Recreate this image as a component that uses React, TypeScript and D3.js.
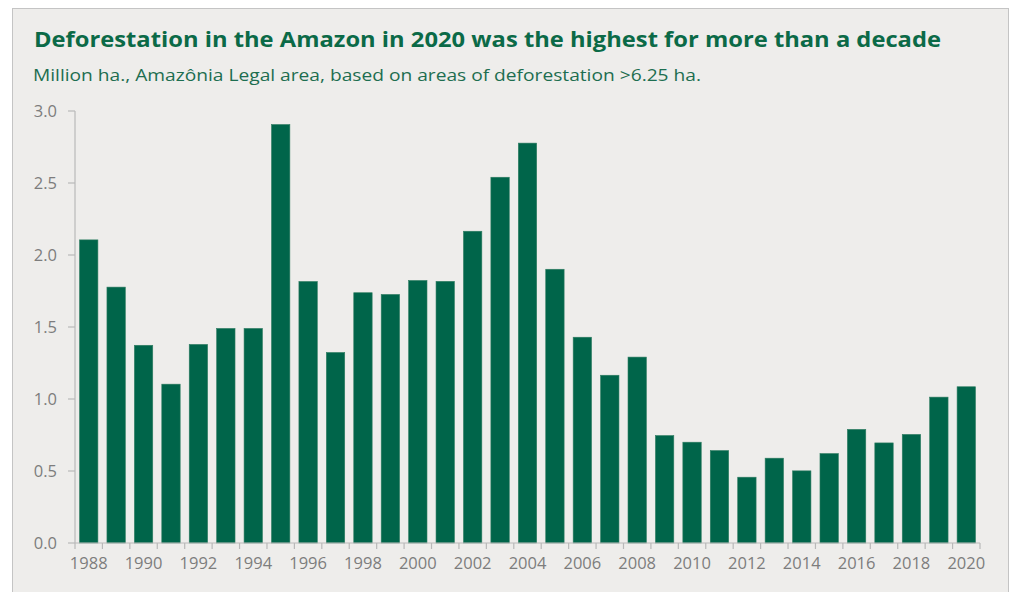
import React from "react";
import * as d3 from "d3";

const years: number[] = [
  1988, 1989, 1990, 1991, 1992, 1993, 1994, 1995, 1996, 1997, 1998, 1999, 2000,
  2001, 2002, 2003, 2004, 2005, 2006, 2007, 2008, 2009, 2010, 2011, 2012, 2013,
  2014, 2015, 2016, 2017, 2018, 2019, 2020,
];
const values: number[] = [
  2.105, 1.777, 1.373, 1.103, 1.379, 1.49, 1.49, 2.906, 1.816, 1.323, 1.738,
  1.726, 1.823, 1.817, 2.165, 2.54, 2.777, 1.901, 1.429, 1.165, 1.291, 0.746,
  0.7, 0.642, 0.457, 0.589, 0.501, 0.621, 0.789, 0.695, 0.754, 1.013, 1.085,
];
const yTicks: number[] = [0, 0.5, 1.0, 1.5, 2.0, 2.5, 3.0];
const xLabelYears: number[] = years.filter((y) => y % 2 === 0);

const title = "Deforestation in the Amazon in 2020 was the highest for more than a decade";
const subtitle = "Million ha., Amazônia Legal area, based on areas of deforestation >6.25 ha.";

const W = 1013;
const H = 592;
const M = { left: 75, right: 980, top: 111, bottom: 543 };

export default function App() {
  const x = d3
    .scaleBand<number>()
    .domain(years)
    .range([M.left, M.right])
    .paddingInner(0.33)
    .paddingOuter(0.165);
  const y = d3.scaleLinear().domain([0, 3]).range([M.bottom, M.top]);
  const step = x.step();
  const boundaries = d3.range(years.length + 1).map((i) => M.left + i * ((M.right - M.left) / years.length));
  const green = "#00654a";
  const axisColor = "#b9b9b9";
  const labelColor = "#7d7d7d";

  return (
    <svg
      width={W}
      height={H}
      style={{ position: "absolute", left: 0, top: 0, background: "#ffffff" }}
    >
      <rect x={12.5} y={8.5} width={996} height={600} fill="#eeedeb" stroke="#c4c4c4" strokeWidth={1} />
      <text
        x={34}
        y={47}
        fontFamily="'Open Sans', sans-serif"
        fontWeight={700}
        fontSize={21}
        fill="#0b6a47"
        textLength={907}
        lengthAdjust="spacingAndGlyphs"
      >
        {title}
      </text>
      <text
        x={33}
        y={81}
        fontFamily="'Open Sans', sans-serif"
        fontSize={16}
        fill="#1d6e50"
        textLength={668}
        lengthAdjust="spacingAndGlyphs"
      >
        {subtitle}
      </text>

      {/* y axis */}
      <line x1={M.left} x2={M.left} y1={M.top} y2={M.bottom} stroke={axisColor} strokeWidth={1.2} />
      {yTicks.map((t) => (
        <g key={t}>
          <line x1={M.left - 7} x2={M.left} y1={y(t)} y2={y(t)} stroke={axisColor} strokeWidth={1.2} />
          <text
            x={57}
            y={y(t)}
            dy="0.35em"
            textAnchor="end"
            fontFamily="'Open Sans', sans-serif"
            fontSize={16.5}
            fill={labelColor}
          >
            {t.toFixed(1)}
          </text>
        </g>
      ))}

      {/* bars */}
      {years.map((yr, i) => (
        <rect
          key={yr}
          x={x(yr)}
          y={y(values[i])}
          width={x.bandwidth()}
          height={y(0) - y(values[i])}
          fill={green}
          stroke="#2f7d62"
          strokeWidth={0.6}
        />
      ))}

      {/* x axis */}
      <line x1={M.left} x2={M.right} y1={M.bottom} y2={M.bottom} stroke={axisColor} strokeWidth={1.2} />
      {boundaries.map((b, i) => (
        <line key={i} x1={b} x2={b} y1={M.bottom} y2={M.bottom + 6} stroke={axisColor} strokeWidth={1.2} />
      ))}
      {xLabelYears.map((yr) => (
        <text
          key={yr}
          x={(x(yr) ?? 0) + x.bandwidth() / 2}
          y={569}
          textAnchor="middle"
          fontFamily="'Open Sans', sans-serif"
          fontSize={16.5}
          fill={labelColor}
        >
          {yr}
        </text>
      ))}
      {step > 0 ? null : null}
    </svg>
  );
}
